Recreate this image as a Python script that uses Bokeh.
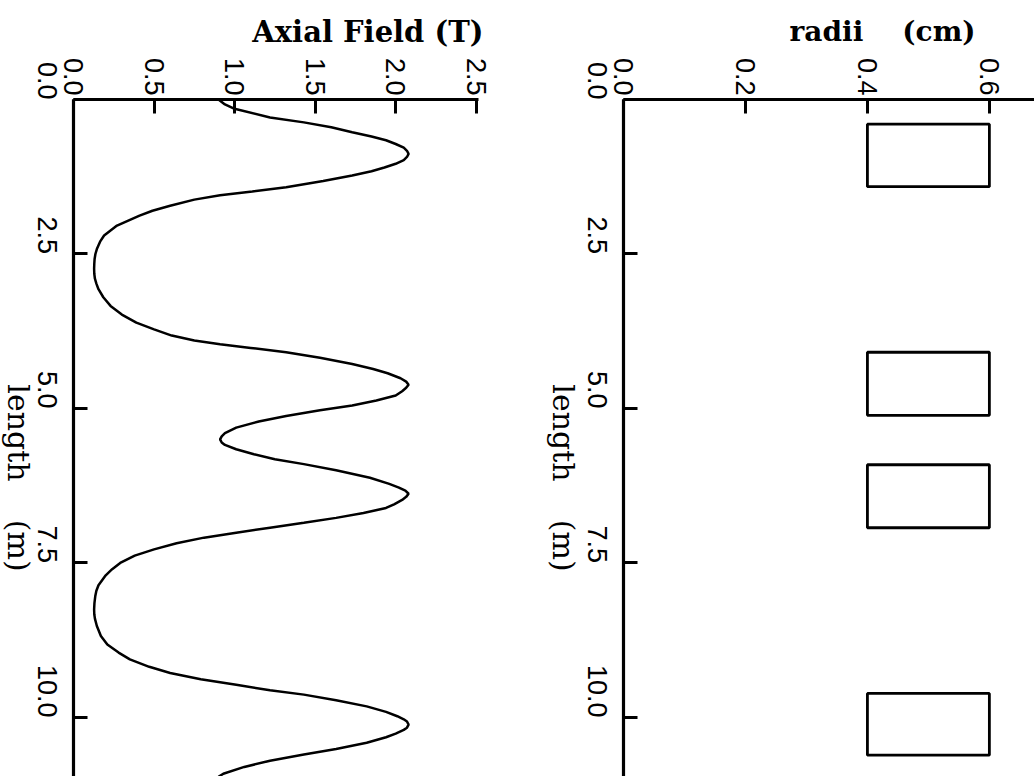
import math
from bokeh.plotting import figure
from bokeh.layouts import row
from bokeh.models import Range1d, FixedTicker, ColumnDataSource
from bokeh.core.properties import value
from bokeh.embed import file_html
from bokeh.resources import INLINE

# ---- data ----
length_m = [0.00, 0.08, 0.15, 0.29, 0.37, 0.45, 0.53, 0.60, 0.66, 0.72, 0.78, 0.83, 0.88,
            0.93, 0.98, 1.04, 1.10, 1.16, 1.23, 1.32, 1.42, 1.49, 1.55, 1.62, 1.72, 1.80,
            1.88, 2.04, 2.20, 2.30, 2.42, 2.50, 2.58, 2.66, 2.74, 2.82, 2.90, 2.98, 3.07,
            3.20, 3.34, 3.48, 3.61, 3.72, 3.82, 3.90, 3.96, 4.02, 4.09, 4.18, 4.28, 4.36,
            4.43, 4.51, 4.565, 4.615, 4.665, 4.72, 4.79, 4.87, 4.95, 5.03, 5.12, 5.21,
            5.31, 5.40, 5.45, 5.50, 5.55, 5.59, 5.66, 5.74, 5.82, 5.90, 6.00, 6.12, 6.22,
            6.28, 6.33, 6.38, 6.43, 6.48, 6.55, 6.61, 6.69, 6.77, 6.85, 6.93, 7.01, 7.09,
            7.18, 7.28, 7.38, 7.50, 7.60, 7.70, 7.86, 7.95, 8.04, 8.15, 8.25, 8.33, 8.40,
            8.52, 8.68, 8.82, 8.95, 9.06, 9.18, 9.28, 9.38, 9.47, 9.56, 9.63, 9.72, 9.82,
            9.91, 9.98, 10.03, 10.065, 10.115, 10.165, 10.20, 10.26, 10.32, 10.41, 10.51,
            10.60, 10.70, 10.80, 10.91, 10.96]
field_T = [0.90, 0.94, 1.00, 1.22, 1.43, 1.60, 1.73, 1.85, 1.94, 2.00, 2.05, 2.07, 2.08,
           2.07, 2.05, 2.00, 1.93, 1.85, 1.73, 1.55, 1.32, 1.11, 0.91, 0.75, 0.60, 0.49,
           0.41, 0.27, 0.19, 0.165, 0.145, 0.136, 0.131, 0.129, 0.128, 0.129, 0.133, 0.142, 0.155,
           0.185, 0.23, 0.30, 0.39, 0.50, 0.61, 0.75, 0.91, 1.10, 1.32, 1.53, 1.73, 1.86,
           1.95, 2.03, 2.065, 2.08, 2.065, 2.04, 2.00, 1.88, 1.73, 1.53, 1.32, 1.15,
           1.01, 0.94, 0.92, 0.91, 0.92, 0.94, 1.01, 1.12, 1.25, 1.43, 1.63, 1.84, 1.96,
           2.02, 2.06, 2.08, 2.065, 2.04, 1.99, 1.94, 1.80, 1.63, 1.43, 1.22, 1.01, 0.81,
           0.64, 0.50, 0.38, 0.29, 0.24, 0.20, 0.155, 0.142, 0.135, 0.130, 0.128, 0.129, 0.133,
           0.145, 0.17, 0.21, 0.28, 0.35, 0.47, 0.60, 0.79, 1.01, 1.22, 1.43, 1.63, 1.82,
           1.94, 2.01, 2.05, 2.07, 2.08, 2.07, 2.05, 2.00, 1.94, 1.82, 1.63,
           1.43, 1.22, 1.06, 0.93, 0.90]

magnet_start_m = [0.40, 4.09, 5.91, 9.61]
magnet_end_m = [1.41, 5.11, 6.93, 10.61]
magnet_r_inner_cm = [0.4, 0.4, 0.4, 0.4]
magnet_r_outer_cm = [0.6, 0.6, 0.6, 0.6]

field_ticks = [0.0, 0.5, 1.0, 1.5, 2.0, 2.5]
field_tick_labels = ["0.0", "0.5", "1.0", "1.5", "2.0", "2.5"]
length_ticks = [0.0, 2.5, 5.0, 7.5, 10.0]
length_tick_labels = ["0.0", "2.5", "5.0", "7.5", "10.0"]
radius_ticks = [0.0, 0.2, 0.4, 0.6]
radius_tick_labels = ["0.0", "0.2", "0.4", "0.6"]

GAP = "\u00a0" * 4
field_title = "Axial Field (T)"
radius_title = "radii" + GAP + "(cm)"
length_title = "length" + GAP + "(m)"

FRAME_TOP = 99
FRAME_H = 677
LEN_MAX = 10.955
PX_PER_M = FRAME_H / LEN_MAX


def make_fig(x_end, frame_w, border_left, border_right, xticks, xlabels):
    p = figure(x_range=Range1d(0.0, x_end), y_range=Range1d(start=LEN_MAX, end=0.0),
               frame_width=frame_w, frame_height=FRAME_H,
               min_border_left=border_left, min_border_right=border_right,
               min_border_top=FRAME_TOP, min_border_bottom=0,
               x_axis_location="above", toolbar_location=None, output_backend="svg",
               background_fill_color="white", border_fill_color="white",
               outline_line_color=None)
    p.grid.visible = False
    p.xaxis.ticker = FixedTicker(ticks=xticks)
    p.xaxis.major_label_overrides = {t: l for t, l in zip(xticks, xlabels)}
    p.yaxis.ticker = FixedTicker(ticks=length_ticks)
    p.yaxis.major_label_overrides = {t: l for t, l in zip(length_ticks, length_tick_labels)}
    for ax in p.axis:
        ax.axis_line_width = 3.2
        ax.axis_line_color = "black"
        ax.major_tick_in = 14
        ax.major_tick_out = 0
        ax.major_tick_line_width = 3
        ax.major_tick_line_color = "black"
        ax.minor_tick_line_color = None
        ax.major_label_text_font = "Liberation Sans"
        ax.major_label_text_font_size = "27px"
        ax.major_label_text_color = "black"
        ax.major_label_orientation = -math.pi / 2
    p.yaxis.major_label_text_align = "center"
    p.yaxis.major_label_text_baseline = "middle"
    p.xaxis.major_label_standoff = 4
    p.yaxis.major_label_standoff = 26
    return p


def add_titles(p, px_per_x, top_text, top_size, top_right_px, side_x_px):
    # horizontal axis title above the top axis (screen px -> data)
    p.text(x=[top_right_px / px_per_x], y=[(31 - FRAME_TOP) / PX_PER_M], text=[top_text],
           text_align="right", text_baseline="alphabetic",
           text_font=value("DejaVu Serif"), text_font_style="bold",
           text_font_size=top_size, text_color="black", level="overlay")
    # rotated length title on the left
    p.text(x=[side_x_px / px_per_x], y=[(477.5 - FRAME_TOP) / PX_PER_M],
           text=[length_title], angle=-math.pi / 2,
           text_align="center", text_baseline="middle",
           text_font=value("DejaVu Serif"), text_font_size="30px",
           text_color="black", level="overlay")


# ---- left panel: axial field ----
P1_W = 405
P1_XEND = 2.514
p1 = make_fig(P1_XEND, P1_W, 73, 62, field_ticks, field_tick_labels)
p1.line(x=field_T, y=length_m, line_color="black", line_width=2.5)
add_titles(p1, P1_W / P1_XEND, field_title, "29px", 483 - 73, 18 - 73)

# ---- right panel: radii ----
P2_W = 411
P2_XEND = 0.674
p2 = make_fig(P2_XEND, P2_W, 83, 0, radius_ticks, radius_tick_labels)
src = ColumnDataSource(dict(left=magnet_r_inner_cm, right=magnet_r_outer_cm,
                            top=magnet_start_m, bottom=magnet_end_m))
p2.quad(left="left", right="right", top="top", bottom="bottom", source=src,
        fill_color=None, line_color="black", line_width=2.8)
add_titles(p2, P2_W / P2_XEND, radius_title, "28px", 975 - 623, 563 - 623)

layout = row(p1, p2, spacing=0)
open("out.html", "w").write(file_html(layout, INLINE))
